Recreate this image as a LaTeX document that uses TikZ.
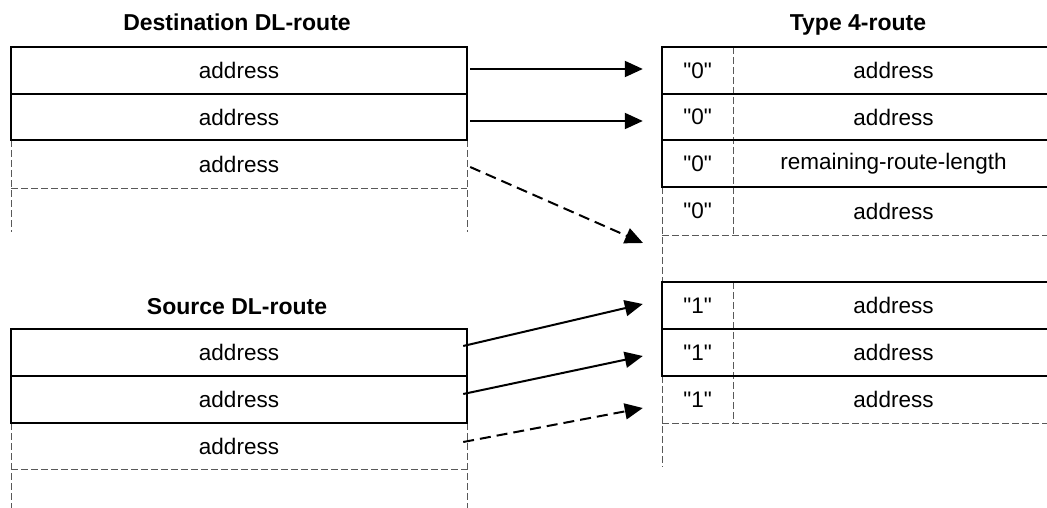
\documentclass[tikz,border=0pt]{standalone}
\usepackage{fontspec}
\setmainfont{Liberation Sans}[Ligatures=TeXOff]
\usetikzlibrary{arrows.meta}
\begin{document}
\begin{tikzpicture}[x=1pt,y=-1pt,
  every node/.style={font=\fontsize{22.5}{27}\selectfont, inner sep=0pt},
  title/.style={font=\fontsize{23}{27}\selectfont\bfseries, anchor=base},
  cellA/.style={minimum width=456pt, minimum height=47pt},
  cellZ/.style={minimum width=71pt, minimum height=47pt},
  cellB/.style={minimum width=321pt, minimum height=47pt},
  solidline/.style={line width=2pt, black},
  thindash/.style={line width=1pt, color=black!65, dash pattern=on 7pt off 3pt},
  arr/.style={line width=2pt, -{Triangle[length=18pt,width=16pt]}},
  darr/.style={arr, dash pattern=on 11pt off 6pt}]
\useasboundingbox (0,0) rectangle (1047,508);
\begin{scope}
\clip (0,0) rectangle (1047,508);
% ---------- Destination DL-route ----------
\node[title] (tdest) at (237,31) {Destination DL-route};
\node[cellA] (d1) at (239,70.5) {address};
\node[cellA] (d2) at (239,117) {address};
\node[cellA] (d3) at (239,164) {address};
\draw[thindash] (11,140) -- (11,232) (467,140) -- (467,232);
\draw[thindash] (11,188) -- (467,188);
\draw[solidline] (11,47) rectangle (467,140);
\draw[solidline] (11,94) -- (467,94);
% ---------- Source DL-route ----------
\node[title] (tsrc) at (237,314) {Source DL-route};
\node[cellA] (s1) at (239,352.5) {address};
\node[cellA] (s2) at (239,399.5) {address};
\node[cellA] (s3) at (239,446) {address};
\draw[thindash] (11,423) -- (11,510) (467,423) -- (467,510);
\draw[thindash] (11,469) -- (467,469);
\draw[solidline] (11,329) rectangle (467,423);
\draw[solidline] (11,376) -- (467,376);
% ---------- Type 4-route ----------
\node[title] (ttype) at (858,31) {Type 4-route};
\node[cellZ] (z1) at (697.5,70.5) {"0"};
\node[cellZ] (z2) at (697.5,117) {"0"};
\node[cellZ] (z3) at (697.5,163.5) {"0"};
\node[cellZ] (z4) at (697.5,211) {"0"};
\node[cellB] (b1) at (893.5,70.5) {address};
\node[cellB] (b2) at (893.5,117) {address};
\node[cellB] (b3) at (893.5,163.5) {remaining-route-length};
\node[cellB] (b4) at (893.5,211) {address};
\node[cellZ] (o1) at (697.5,305.5) {"1"};
\node[cellZ] (o2) at (697.5,352.5) {"1"};
\node[cellZ] (o3) at (697.5,399.5) {"1"};
\node[cellB] (c1) at (893.5,305.5) {address};
\node[cellB] (c2) at (893.5,352.5) {address};
\node[cellB] (c3) at (893.5,399.5) {address};
\draw[thindash] (662,187) -- (662,282);
\draw[thindash] (733,47) -- (733,235);
\draw[thindash] (662,235) -- (1060,235);
\draw[solidline] (662,47) rectangle (1060,187);
\draw[solidline] (662,94) -- (1060,94) (662,140) -- (1060,140);
\draw[thindash] (662,376) -- (662,467);
\draw[thindash] (733,282) -- (733,423);
\draw[thindash] (662,423) -- (1060,423);
\draw[solidline] (662,282) rectangle (1060,376);
\draw[solidline] (662,329) -- (1060,329);
\end{scope}
% ---------- connectors ----------
\coordinate (g1) at (643,243);
\draw[arr] ([xshift=3pt,yshift=1.5pt]d1.east) -- ([xshift=-19pt,yshift=1.5pt]z1.west);
\draw[arr] ([xshift=3pt,yshift=-4pt]d2.east) -- ([xshift=-19pt,yshift=-4pt]z2.west);
\draw[darr] ([xshift=3pt,yshift=-3pt]d3.east) -- (g1);
\draw[arr] ([xshift=-4pt,yshift=6.5pt]s1.east) -- ([xshift=-19pt,yshift=1.5pt]o1.west);
\draw[arr] ([xshift=-4pt,yshift=5.5pt]s2.east) -- ([xshift=-19pt,yshift=-3.5pt]o2.west);
\draw[darr] ([xshift=-4pt,yshift=4pt]s3.east) -- ([xshift=-19pt,yshift=-8.5pt]o3.west);
\end{tikzpicture}
\end{document}
